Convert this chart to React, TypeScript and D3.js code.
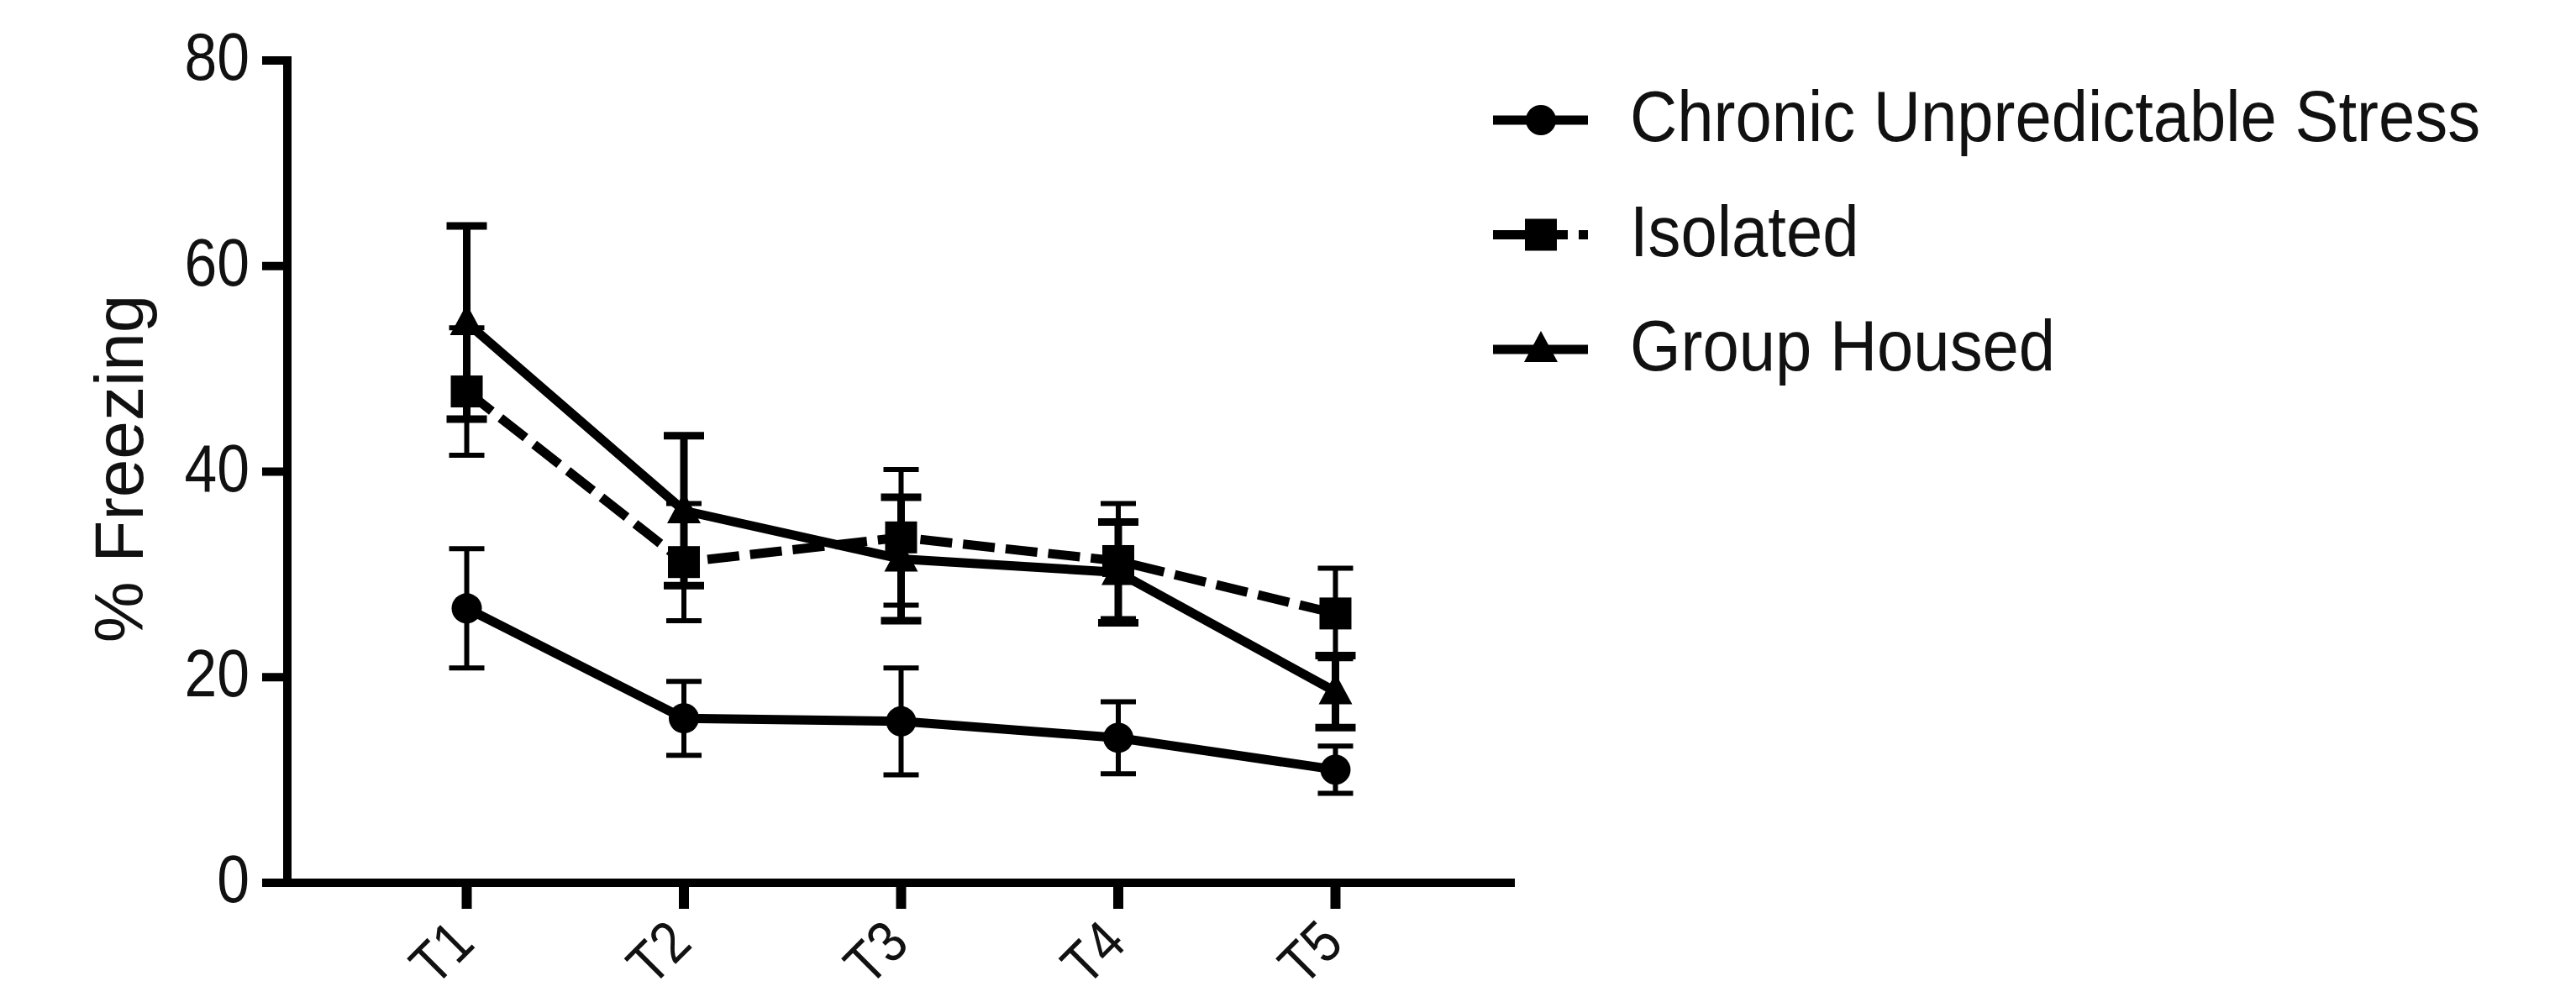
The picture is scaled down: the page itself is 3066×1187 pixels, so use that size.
import React from "react";
import * as d3 from "d3";

// trial days
const categories = ["T1", "T2", "T3", "T4", "T5"];

// % freezing, mean and SEM per group
const cusMean = [26.7, 16.0, 15.7, 14.1, 11.0];
const cusSem = [5.8, 3.6, 5.2, 3.5, 2.3];
const isoMean = [47.8, 31.2, 33.6, 31.3, 26.2];
const isoSem = [6.2, 5.7, 6.6, 5.6, 4.4];
const ghMean = [54.5, 36.2, 31.5, 30.2, 18.6];
const ghSem = [9.4, 7.3, 6.0, 4.9, 3.5];

const yTicks = [0, 20, 40, 60, 80];
const seriesNames = ["Chronic Unpredictable Stress", "Isolated", "Group Housed"];

const W = 3066;
const H = 1187;
const FONT = "'Liberation Sans', Arial, sans-serif";

const x = d3.scalePoint().domain(categories).range([342, 1803]).padding(0.826);
const y = d3.scaleLinear().domain([0, 80]).range([1051, 72]);

const series = [
  { name: seriesNames[0], mean: cusMean, sem: cusSem, marker: "circle", dash: null, barW: 6, capW: 42 },
  { name: seriesNames[1], mean: isoMean, sem: isoSem, marker: "square", dash: "38 13", barW: 6, capW: 42 },
  { name: seriesNames[2], mean: ghMean, sem: ghSem, marker: "triangle", dash: null, barW: 9, capW: 48 },
];

const Marker = ({ type, cx, cy }) => {
  if (type === "circle") return <circle cx={cx} cy={cy} r={18} fill="#000" />;
  if (type === "square") return <rect x={cx - 19} y={cy - 19} width={38} height={38} fill="#000" />;
  return <path d={`M${cx},${cy - 22}L${cx + 20},${cy + 15}L${cx - 20},${cy + 15}Z`} fill="#000" />;
};

export default function App() {
  const line = d3
    .line<number>()
    .x((_, i) => x(categories[i]))
    .y((d) => y(d));

  const legendY = d3.scaleLinear().domain([0, 2]).range([143, 416]);

  return (
    <svg width={W} height={H} style={{ position: "absolute", left: 0, top: 0, background: "#fff" }}>
      {/* error bars */}
      {series.map((s) =>
        s.mean.map((m, i) => {
          const cx = x(categories[i]);
          const hi = y(m + s.sem[i]);
          const lo = y(m - s.sem[i]);
          return (
            <g key={s.name + i} stroke="#000">
              <line x1={cx} x2={cx} y1={hi} y2={lo} strokeWidth={s.barW} />
              <line x1={cx - s.capW / 2} x2={cx + s.capW / 2} y1={hi} y2={hi} strokeWidth={s.barW} />
              <line x1={cx - s.capW / 2} x2={cx + s.capW / 2} y1={lo} y2={lo} strokeWidth={s.barW} />
            </g>
          );
        })
      )}

      {/* lines + markers */}
      {series.map((s) => (
        <g key={s.name}>
          <path d={line(s.mean)} fill="none" stroke="#000" strokeWidth={11} strokeDasharray={s.dash || undefined} />
          {s.mean.map((m, i) => (
            <Marker key={i} type={s.marker} cx={x(categories[i])} cy={y(m)} />
          ))}
        </g>
      ))}

      {/* y axis */}
      <line x1={342} x2={342} y1={67} y2={1056} stroke="#000" strokeWidth={10} />
      {yTicks.map((t) => (
        <g key={t}>
          <line x1={312} x2={342} y1={y(t)} y2={y(t)} stroke="#000" strokeWidth={10} />
          <text
            transform={`translate(297,${y(t) + 23}) scale(0.87,1)`}
            textAnchor="end"
            fontFamily={FONT}
            fontSize={80}
            fill="#111"
          >
            {t}
          </text>
        </g>
      ))}
      <text
        transform="translate(170,558) rotate(-90)"
        textAnchor="middle"
        fontFamily={FONT}
        fontSize={82}
        fill="#111"
      >
        % Freezing
      </text>

      {/* x axis */}
      <line x1={312} x2={1803} y1={1051} y2={1051} stroke="#000" strokeWidth={10} />
      {categories.map((c) => (
        <g key={c}>
          <line x1={x(c)} x2={x(c)} y1={1051} y2={1082} stroke="#000" strokeWidth={12} />
          <text
            transform={`translate(${x(c) + 12},1126) rotate(-45) scale(0.87,1)`}
            textAnchor="end"
            fontFamily={FONT}
            fontSize={70}
            fill="#111"
          >
            {c}
          </text>
        </g>
      ))}

      {/* legend */}
      {series.map((s, i) => {
        const ly = legendY(i);
        return (
          <g key={s.name}>
            <line x1={1777} x2={1890} y1={ly} y2={ly} stroke="#000" strokeWidth={11} strokeDasharray={s.dash || undefined} />
            <Marker type={s.marker} cx={1834} cy={ly} />
            <text
              transform={`translate(1940,${ly + 25}) scale(0.905,1)`}
              fontFamily={FONT}
              fontSize={86}
              fill="#111"
            >
              {s.name}
            </text>
          </g>
        );
      })}
    </svg>
  );
}
